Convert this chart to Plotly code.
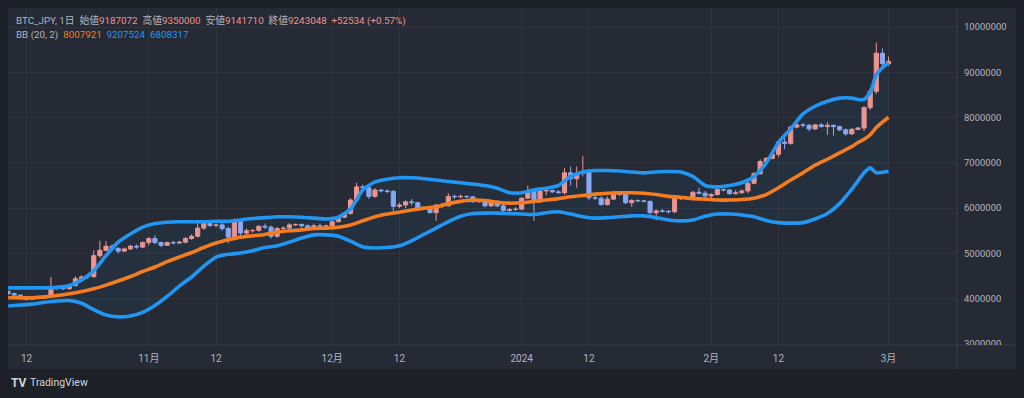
import pandas as pd
import plotly.graph_objects as go

# ---------------- data (JPY) ----------------
candle_start = "2023-10-09"
candle_end = "2024-03-01"

open_ = [
    4160000, 4110000, 4080000, 4000000, 3990000, 4010000, 4010000, 4050000, 4250000, 4240000, 4220000, 4290000,
    4440000, 4480000, 4490000, 4950000, 5070000, 5160000, 5110000, 5050000, 5100000, 5160000, 5140000,
    5240000, 5330000, 5240000, 5180000, 5240000, 5230000, 5250000, 5330000, 5380000, 5560000, 5660000, 5620000,
    5630000, 5550000, 5360000, 5720000, 5450000, 5500000, 5510000, 5600000, 5580000, 5380000, 5550000, 5560000,
    5630000, 5640000, 5610000, 5550000, 5610000, 5600000,
    5610000, 5700000, 5800000, 5880000, 6180000, 6470000, 6450000, 6260000, 6400000, 6380000, 6370000, 6040000,
    6070000, 6140000, 6120000, 5980000, 6010000, 5900000, 6070000, 6050000, 6260000, 6250000, 6260000, 6250000,
    6140000, 6180000, 6050000, 6150000, 6050000, 5950000, 5970000,
    5980000, 6220000, 6380000, 6140000, 6380000, 6390000, 6360000, 6340000, 6780000, 6650000, 6770000, 6800000,
    6230000, 6220000, 6080000, 6200000, 6330000, 6300000, 6120000, 6170000, 6160000, 6150000, 5900000, 5940000,
    5930000, 5920000, 6210000, 6230000, 6220000, 6350000, 6330000,
    6270000, 6300000, 6410000, 6400000, 6320000, 6340000, 6380000, 6550000, 6760000, 7030000, 7100000, 7190000,
    7460000, 7430000, 7790000, 7840000, 7830000, 7750000, 7840000, 7800000, 7830000, 7800000, 7730000, 7640000,
    7740000, 7770000, 8220000, 8580000, 9420000,
    9187072,
]
high = [
    4190000, 4140000, 4090000, 4020000, 4050000, 4020000, 4060000, 4480000, 4280000, 4270000, 4320000, 4500000,
    4520000, 4510000, 5070000, 5280000, 5270000, 5200000, 5140000, 5130000, 5190000, 5200000, 5270000,
    5360000, 5400000, 5260000, 5260000, 5280000, 5280000, 5360000, 5420000, 5740000, 5700000, 5680000, 5660000,
    5700000, 5600000, 5770000, 5760000, 5550000, 5530000, 5620000, 5660000, 5620000, 5580000, 5600000, 5670000,
    5660000, 5660000, 5640000, 5660000, 5660000, 5630000,
    5730000, 5820000, 5900000, 6220000, 6560000, 6520000, 6480000, 6440000, 6420000, 6410000, 6400000, 6120000,
    6170000, 6200000, 6140000, 6040000, 6030000, 6090000, 6120000, 6330000, 6300000, 6300000, 6280000, 6270000,
    6200000, 6200000, 6180000, 6180000, 6100000, 6000000, 6020000,
    6240000, 6500000, 6420000, 6420000, 6460000, 6410000, 6400000, 6880000, 6920000, 6920000, 7150000, 6850000,
    6280000, 6260000, 6260000, 6380000, 6360000, 6340000, 6200000, 6190000, 6180000, 6170000, 5970000, 5980000,
    5960000, 6240000, 6250000, 6270000, 6380000, 6450000, 6380000,
    6330000, 6440000, 6430000, 6420000, 6400000, 6410000, 6580000, 6800000, 7080000, 7130000, 7240000, 7500000,
    7550000, 7820000, 7900000, 7880000, 7860000, 7860000, 7880000, 7900000, 7840000, 7820000, 7760000, 7770000,
    7790000, 8250000, 8660000, 9660000, 9530000,
    9350000,
]
low = [
    4080000, 4050000, 3980000, 3960000, 3980000, 3990000, 4000000, 4030000, 4190000, 4190000, 4200000, 4270000,
    4420000, 4440000, 4460000, 4900000, 5050000, 5050000, 5000000, 5040000, 5080000, 5100000, 5120000,
    5180000, 5200000, 5140000, 5170000, 5200000, 5210000, 5220000, 5300000, 5350000, 5520000, 5580000, 5580000,
    5500000, 5220000, 5330000, 5400000, 5400000, 5460000, 5480000, 5540000, 5330000, 5350000, 5520000, 5550000,
    5610000, 5570000, 5500000, 5520000, 5580000, 5570000,
    5580000, 5690000, 5780000, 5860000, 6140000, 6400000, 6200000, 6230000, 6350000, 6330000, 5920000, 6000000,
    6000000, 6060000, 5960000, 5960000, 5880000, 5720000, 6000000, 6040000, 6200000, 6220000, 6220000, 6120000,
    6120000, 6020000, 6030000, 6020000, 5920000, 5930000, 5940000,
    5950000, 6200000, 5720000, 6120000, 6280000, 6330000, 6320000, 6300000, 6500000, 6450000, 6700000, 6180000,
    6180000, 6050000, 6060000, 6180000, 6270000, 6090000, 6030000, 6130000, 6130000, 5860000, 5730000, 5900000,
    5880000, 5890000, 6180000, 6200000, 6200000, 6300000, 6230000,
    6220000, 6280000, 6370000, 6300000, 6300000, 6320000, 6330000, 6530000, 6740000, 7000000, 7080000, 7130000,
    7300000, 7400000, 7760000, 7780000, 7700000, 7730000, 7780000, 7620000, 7600000, 7700000, 7600000, 7620000,
    7720000, 7700000, 8170000, 8520000, 9140000,
    9141710,
]
close = [
    4110000, 4080000, 4000000, 3990000, 4010000, 4010000, 4050000, 4250000, 4240000, 4220000, 4290000, 4440000,
    4480000, 4490000, 4950000, 5070000, 5160000, 5110000, 5050000, 5100000, 5160000, 5140000, 5240000,
    5330000, 5240000, 5180000, 5240000, 5230000, 5250000, 5330000, 5380000, 5560000, 5660000, 5620000, 5630000,
    5550000, 5360000, 5720000, 5450000, 5500000, 5510000, 5600000, 5580000, 5380000, 5550000, 5560000, 5630000,
    5640000, 5610000, 5550000, 5610000, 5600000, 5610000,
    5700000, 5800000, 5880000, 6180000, 6470000, 6450000, 6260000, 6400000, 6380000, 6370000, 6040000, 6070000,
    6140000, 6120000, 5980000, 6010000, 5900000, 6070000, 6050000, 6260000, 6250000, 6260000, 6250000, 6140000,
    6180000, 6050000, 6150000, 6050000, 5950000, 5970000, 5980000,
    6220000, 6380000, 6140000, 6380000, 6390000, 6360000, 6340000, 6780000, 6650000, 6770000, 6800000, 6230000,
    6220000, 6080000, 6200000, 6330000, 6300000, 6120000, 6170000, 6160000, 6150000, 5900000, 5940000, 5930000,
    5920000, 6210000, 6230000, 6220000, 6350000, 6330000, 6270000,
    6300000, 6410000, 6400000, 6320000, 6340000, 6380000, 6550000, 6760000, 7030000, 7100000, 7190000, 7460000,
    7430000, 7790000, 7840000, 7830000, 7750000, 7840000, 7800000, 7830000, 7800000, 7730000, 7640000, 7740000,
    7770000, 8220000, 8580000, 9420000, 9190000,
    9243048,
]

band_dates = list(pd.date_range("2023-10-09", "2024-02-24", freq="2D").strftime("%Y-%m-%d")) + [
    "2024-02-25", "2024-02-26", "2024-02-27", "2024-02-28", "2024-02-29", "2024-03-01"]

bb_upper = [
    4240000, 4240000, 4240000, 4240000, 4250000, 4290000, 4410000, 4620000, 4950000, 5250000, 5430000, 5580000,
    5660000, 5690000, 5700000, 5700000, 5700000, 5710000, 5710000, 5740000, 5770000, 5790000, 5810000, 5810000,
    5800000, 5780000, 5760000, 5800000, 5980000, 6400000, 6580000, 6640000, 6670000, 6670000, 6650000, 6620000,
    6590000, 6560000, 6530000, 6500000, 6440000, 6340000, 6340000, 6400000, 6440000, 6500000, 6700000, 6800000,
    6830000, 6830000, 6820000, 6800000, 6780000, 6800000, 6810000, 6800000, 6700000, 6500000, 6470000, 6500000,
    6560000, 6700000, 7000000, 7450000, 7750000, 8080000, 8250000, 8360000, 8430000, 8430000,
    8400000, 8400000, 8550000, 8950000, 9100000, 9207524,
]
bb_basis = [
    4020000, 4020000, 4020000, 4040000, 4070000, 4110000, 4160000, 4220000, 4300000, 4390000, 4490000, 4600000,
    4700000, 4820000, 4920000, 5020000, 5130000, 5230000, 5300000, 5360000, 5390000, 5420000, 5470000, 5500000,
    5520000, 5550000, 5560000, 5580000, 5630000, 5720000, 5810000, 5870000, 5910000, 5960000, 6000000, 6030000,
    6100000, 6150000, 6180000, 6170000, 6130000, 6110000, 6120000, 6150000, 6180000, 6210000, 6250000, 6280000,
    6310000, 6330000, 6340000, 6340000, 6330000, 6300000, 6260000, 6240000, 6210000, 6200000, 6180000, 6180000,
    6190000, 6220000, 6300000, 6450000, 6620000, 6780000, 6950000, 7080000, 7220000, 7360000,
    7450000, 7520000, 7620000, 7780000, 7900000, 8007921,
]
bb_lower = [
    3840000, 3860000, 3880000, 3920000, 3950000, 3960000, 3900000, 3760000, 3640000, 3600000, 3620000, 3700000,
    3850000, 4050000, 4280000, 4480000, 4720000, 4920000, 4980000, 5010000, 5060000, 5130000, 5170000, 5250000,
    5340000, 5410000, 5410000, 5380000, 5270000, 5140000, 5120000, 5130000, 5170000, 5280000, 5420000, 5560000,
    5700000, 5820000, 5880000, 5890000, 5890000, 5880000, 5870000, 5860000, 5900000, 5920000, 5870000, 5810000,
    5780000, 5790000, 5810000, 5830000, 5830000, 5790000, 5740000, 5720000, 5740000, 5820000, 5870000, 5870000,
    5850000, 5810000, 5730000, 5680000, 5670000, 5680000, 5760000, 5880000, 6100000, 6420000,
    6600000, 6780000, 6890000, 6780000, 6790000, 6808317,
]

x_tick_dates = ["2023-10-12", "2023-11-01", "2023-11-12", "2023-12-01", "2023-12-12",
                "2024-01-01", "2024-01-12", "2024-02-01", "2024-02-12", "2024-03-01"]
x_tick_text = ["12", "11月", "12", "12月", "12", "2024", "12", "2月", "12", "3月"]
y_tick_vals = [3000000, 4000000, 5000000, 6000000, 7000000, 8000000, 9000000, 10000000]
y_tick_text = ["3000000", "4000000", "5000000", "6000000", "7000000", "8000000", "9000000", "10000000"]

# ---------------- styles ----------------
PAGE_BG = "#1d2027"
PANEL_BG = "#262a34"
TEXT = "#b2b5be"
UP = "#f0958e"
DOWN = "#8ea8f0"
BLUE = "#2196f3"
ORANGE = "#f57c1f"
GRID = "rgba(255,255,255,0.045)"
SEP = "rgba(255,255,255,0.09)"
FONT = "Roboto, 'Noto Sans CJK JP', sans-serif"
DAY_MS = 86400000

dates = list(pd.date_range(candle_start, candle_end, freq="D"))

fig = go.Figure()

# band fill
fig.add_trace(go.Scatter(x=band_dates, y=bb_upper, mode="lines", line=dict(width=0, shape="spline", smoothing=0.6),
                         hoverinfo="skip", showlegend=False))
fig.add_trace(go.Scatter(x=band_dates, y=bb_lower, mode="lines", line=dict(width=0, shape="spline", smoothing=0.6),
                         fill="tonexty", fillcolor="rgba(33,150,243,0.06)", hoverinfo="skip", showlegend=False))

# candles: wicks + bodies
is_up = [c >= o for o, c in zip(open_, close)]
for flag, col in [(True, UP), (False, DOWN)]:
    wx, wy = [], []
    for d, h, l, u in zip(dates, high, low, is_up):
        if u == flag:
            wx += [d, d, None]
            wy += [l, h, None]
    fig.add_trace(go.Scatter(x=wx, y=wy, mode="lines", line=dict(color=col, width=1),
                             hoverinfo="skip", showlegend=False))

body_base = [min(o, c) for o, c in zip(open_, close)]
body_len = [abs(c - o) for o, c in zip(open_, close)]
body_col = [UP if u else DOWN for u in is_up]
fig.add_trace(go.Bar(x=dates, y=body_len, base=body_base, width=0.68 * DAY_MS,
                     marker=dict(color=body_col, line=dict(color=body_col, width=1)),
                     hoverinfo="skip", showlegend=False))

for yv, col in [(bb_upper, BLUE), (bb_basis, ORANGE), (bb_lower, BLUE)]:
    fig.add_trace(go.Scatter(x=band_dates, y=yv, mode="lines",
                             line=dict(color=col, width=3.6, shape="spline", smoothing=0.6),
                             hoverinfo="skip", showlegend=False))

# geometry (pixels)
W, H = 1024, 398
L, R, T, B = 8, 957, 8, 345
pw, ph = R - L, B - T

def px(xp):
    return (xp - L) / pw

def py(yp):
    return (B - yp) / ph

panel_right = px(1016)
panel_bottom = py(369)

shapes = [
    dict(type="rect", xref="paper", yref="paper", x0=0, x1=panel_right, y0=panel_bottom, y1=1,
         fillcolor=PANEL_BG, line=dict(width=0), layer="below"),
    dict(type="rect", xref="paper", yref="paper", x0=1.0, x1=panel_right, y0=panel_bottom, y1=0,
         fillcolor=PANEL_BG, line=dict(width=0), layer="above"),
    dict(type="line", xref="paper", yref="paper", x0=0, x1=panel_right, y0=0, y1=0,
         line=dict(color=SEP, width=1), layer="above"),
    dict(type="line", xref="paper", yref="paper", x0=1.0, x1=1.0, y0=panel_bottom, y1=1,
         line=dict(color=SEP, width=1), layer="above"),
]

sp = "\u00a0"
line1 = (f"<span style='color:{TEXT}'>BTC_JPY, 1日{sp}{sp}始値</span><span style='color:{UP}'>9187072</span>"
         f"<span style='color:{TEXT}'>{sp}{sp}高値</span><span style='color:{UP}'>9350000</span>"
         f"<span style='color:{TEXT}'>{sp}{sp}安値</span><span style='color:{UP}'>9141710</span>"
         f"<span style='color:{TEXT}'>{sp}{sp}終値</span><span style='color:{UP}'>9243048</span>"
         f"<span style='color:{UP}'>{sp}{sp}+52534 (+0.57%)</span>")
line2 = (f"<span style='color:{TEXT}'>BB (20, 2){sp}{sp}</span><span style='color:{ORANGE}'>8007921</span>"
         f"<span style='color:{BLUE}'>{sp}{sp}9207524</span><span style='color:{BLUE}'>{sp}{sp}6808317</span>")

annotations = [
    dict(xref="paper", yref="paper", x=px(14), y=py(20), xanchor="left", yanchor="middle",
         text=line1, showarrow=False, font=dict(size=9.8, family=FONT, color=TEXT)),
    dict(xref="paper", yref="paper", x=px(14), y=py(35), xanchor="left", yanchor="middle",
         text=line2, showarrow=False, font=dict(size=9.8, family=FONT, color=TEXT)),
    dict(xref="paper", yref="paper", x=px(9), y=py(383), xanchor="left", yanchor="middle",
         text="<b>TV</b>", showarrow=False, font=dict(size=12, family=FONT, color="#d1d4dc")),
    dict(xref="paper", yref="paper", x=px(28), y=py(383), xanchor="left", yanchor="middle",
         text="TradingView", showarrow=False, font=dict(size=10.5, family=FONT, color="#d1d4dc")),
]

fig.update_layout(
    width=W, height=H,
    margin=dict(l=L, r=W - R, t=T, b=H - B, pad=0),
    paper_bgcolor=PAGE_BG, plot_bgcolor=PANEL_BG,
    showlegend=False, hovermode=False, barmode="overlay", bargap=0,
    font=dict(family=FONT, color=TEXT, size=10),
    shapes=shapes, annotations=annotations,
    xaxis=dict(type="date", range=["2023-10-08 23:20", "2024-03-12 04:50"],
               tickvals=x_tick_dates, ticktext=x_tick_text, ticks="", showline=False,
               showgrid=True, gridcolor=GRID, gridwidth=1, zeroline=False,
               tickfont=dict(size=10, color=TEXT, family=FONT), ticklabelstandoff=6,
               fixedrange=True),
    yaxis=dict(side="right", range=[2978000, 10420000], tickvals=y_tick_vals, ticktext=y_tick_text,
               ticks="", showline=False, showgrid=True, gridcolor=GRID, gridwidth=1, zeroline=False,
               tickfont=dict(size=9.5, color=TEXT, family=FONT), ticklabelstandoff=6, fixedrange=True),
)

fig.write_html(
    "out.html",
    config={"displayModeBar": False, "staticPlot": True},
    post_script="document.body.style.margin='0';document.body.style.background='%s';" % PAGE_BG,
)
